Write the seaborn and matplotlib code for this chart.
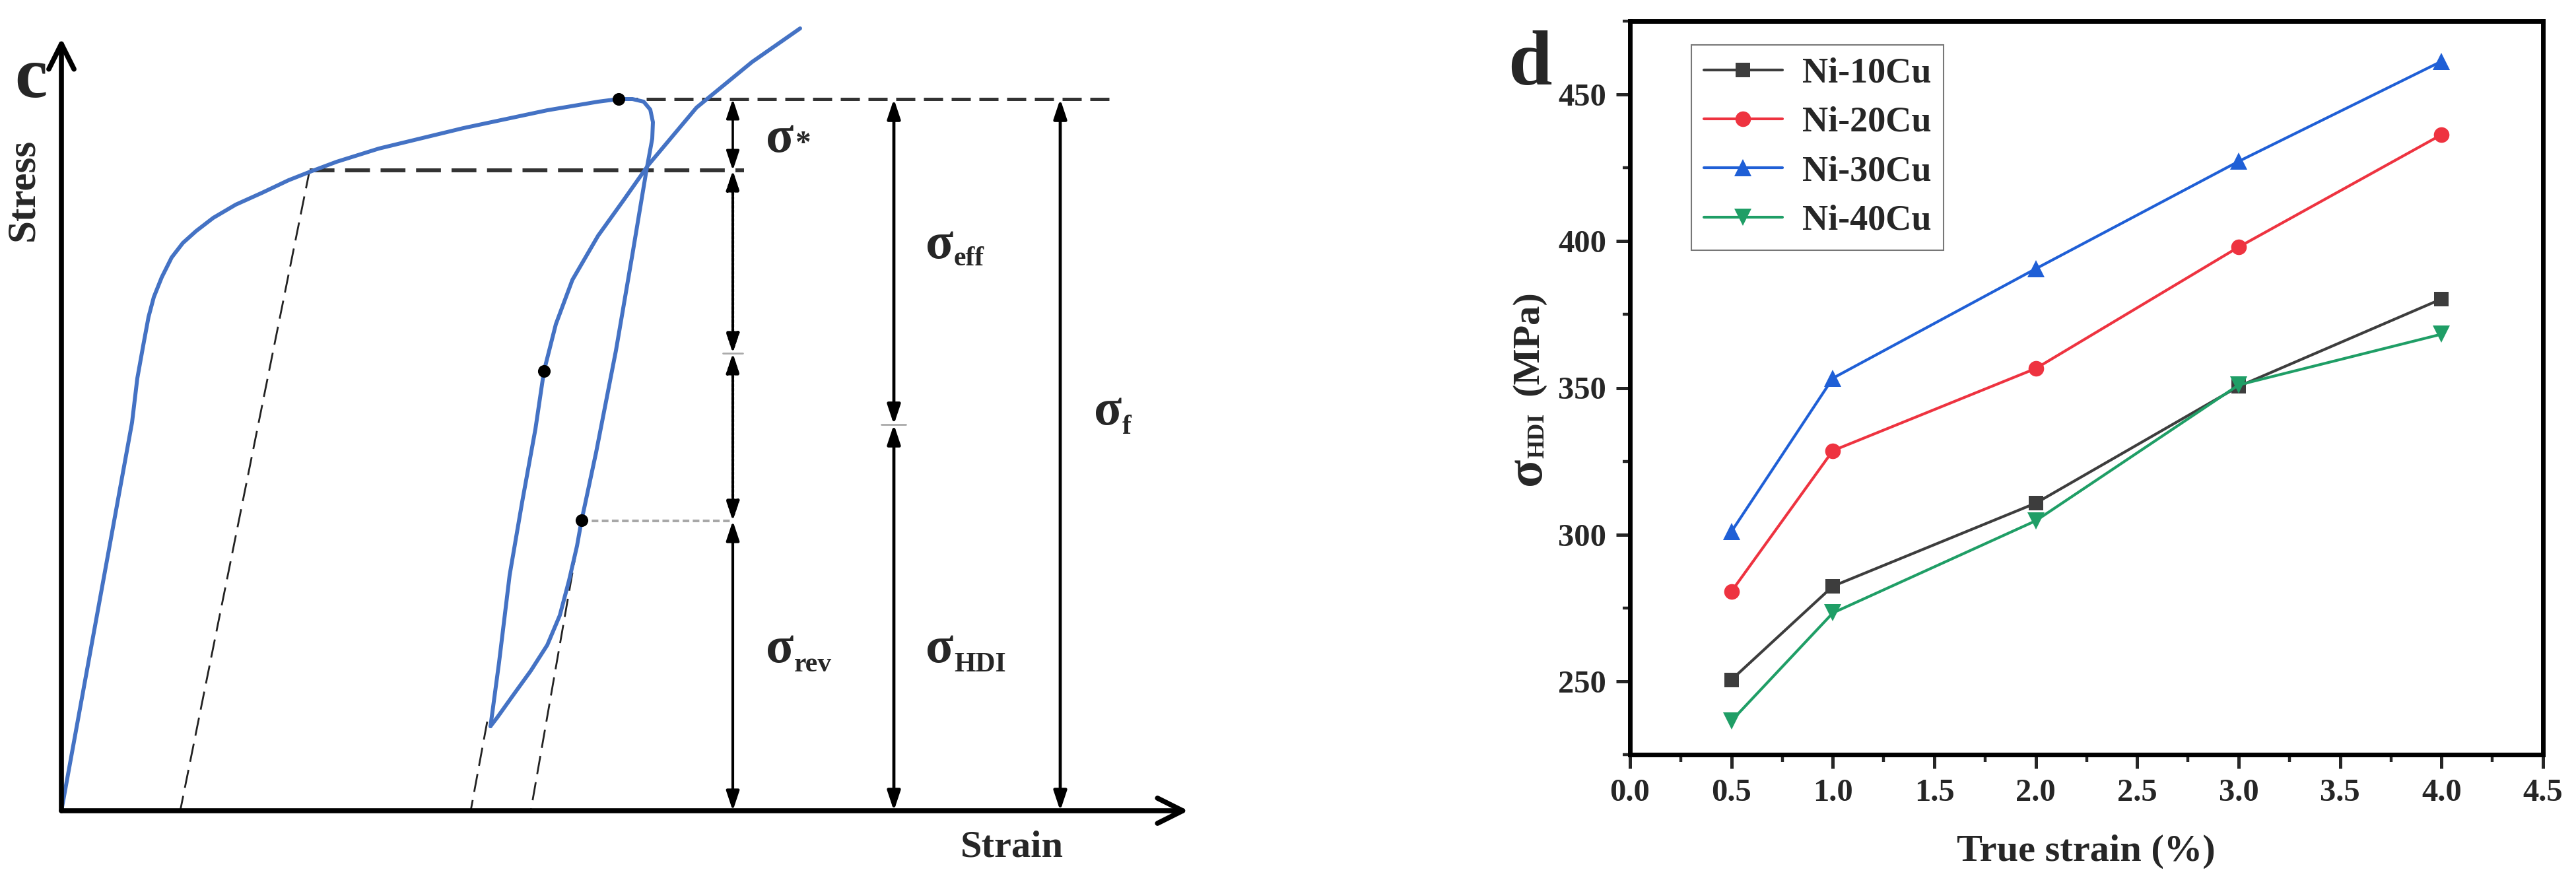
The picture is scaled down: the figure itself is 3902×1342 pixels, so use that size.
import numpy as np
import pandas as pd
import matplotlib
matplotlib.use('Agg')
import matplotlib.pyplot as plt
import seaborn as sns
from matplotlib.ticker import MultipleLocator

# ---- panel c: schematic stress-strain loop (arbitrary units) ----
load_strain = [0.00, 1.07, 1.15, 1.24, 1.32, 1.40, 1.52, 1.67, 1.84, 2.04, 2.30, 2.64, 3.04,
               3.44, 3.77, 4.17, 4.81, 6.09, 7.36, 8.13, 8.44]
load_stress = [0.00, 5.88, 6.55, 7.05, 7.48, 7.78, 8.08, 8.38, 8.60, 8.78, 8.98, 9.18, 9.36,
               9.55, 9.68, 9.83, 10.03, 10.34, 10.61, 10.74, 10.78]
unload_strain = [8.44, 8.65, 8.82, 8.92, 8.96, 8.95, 8.86, 8.65, 8.40, 8.10, 7.88, 7.81, 7.69,
                 7.55, 7.36, 7.11, 6.85, 6.60, 6.50]
unload_stress = [10.78, 10.78, 10.74, 10.62, 10.43, 10.18, 9.69, 8.43, 6.97, 5.43, 4.40, 4.01, 3.49,
                 2.96, 2.51, 2.12, 1.76, 1.41, 1.28]
reload_strain = [6.50, 6.63, 6.79, 6.98, 7.18, 7.31, 7.49, 7.74, 8.13, 8.51, 8.89, 9.62, 10.46, 11.19]
reload_stress = [1.28, 2.25, 3.57, 4.68, 5.78, 6.66, 7.37, 8.04, 8.71, 9.24, 9.78, 10.65, 11.34, 11.85]

dot_strain = [8.44, 7.31, 7.88]
dot_stress = [10.78, 6.66, 4.40]

# elastic unloading guides (strain at top, stress at top, strain at zero)
guide_top_strain = [3.76, 6.45, 7.88]
guide_top_stress = [9.70, 1.35, 4.40]
guide_zero_strain = [1.80, 6.20, 7.11]

sigma_f = 10.78      # peak flow stress
sigma_y = 9.70       # level of first dashed line
sigma_rev = 4.39     # reverse point
sigma_mid1 = 6.93
sigma_hdi = 5.85
col_strain = [10.17, 12.61, 15.13]
x_end, y_end = 17.07, 11.70

# ---- panel d: HDI stress vs true strain ----
true_strain = [0.5, 1.0, 2.0, 3.0, 4.0]
ni10 = [250.5, 282.4, 310.7, 350.5, 380.3]
ni20 = [280.6, 328.6, 356.6, 398.0, 436.3]
ni30 = [301.0, 353.3, 390.6, 427.2, 461.3]
ni40 = [236.5, 273.3, 304.7, 351.0, 368.3]
names = ['Ni-10Cu', 'Ni-20Cu', 'Ni-30Cu', 'Ni-40Cu']

sns.set_style('white')
plt.rcParams['font.family'] = ['Liberation Serif', 'DejaVu Serif']
plt.rcParams['font.weight'] = 'bold'

W, H = 3902, 1342
fig = plt.figure(figsize=(W / 100, H / 100), dpi=100)


def fx(px):
    return px / W


def fy(py):
    return 1 - py / H


# ================= left panel =================
ax1 = fig.add_axes([0, 0, 1900 / W, 1])
ax1.set_xlim(-0.93, 18.07)
ax1.set_ylim(-1.14, 12.28)
ax1.axis('off')

blue = '#4472c4'
for xs, ys in [(load_strain, load_stress), (unload_strain, unload_stress), (reload_strain, reload_stress)]:
    sns.lineplot(x=xs, y=ys, sort=False, estimator=None, color=blue, lw=4.3, ax=ax1,
                 solid_joinstyle='round', solid_capstyle='round', zorder=3)

for xt, yt, x0 in zip(guide_top_strain, guide_top_stress, guide_zero_strain):
    ax1.plot([xt, x0], [yt, 0], color='#222222', lw=2.0, dashes=(10, 4.5), zorder=2)

ax1.plot([dot_strain[0], 15.92], [sigma_f, sigma_f], color='#333333', lw=3.6, dashes=(5.8, 2.6))
ax1.plot([guide_top_strain[0], 10.34], [sigma_y, sigma_y], color='#333333', lw=4.3, dashes=(6.3, 2.7))
ax1.plot([dot_strain[2], col_strain[0]], [sigma_rev, sigma_rev], color='#a8a8a8', lw=2.9, dashes=(2.5, 1.3))
ax1.plot([col_strain[0] - 0.15, col_strain[0] + 0.15], [sigma_mid1, sigma_mid1], color='#aaaaaa', lw=2)
ax1.plot([col_strain[1] - 0.19, col_strain[1] + 0.18], [sigma_hdi, sigma_hdi], color='#aaaaaa', lw=2)

sns.scatterplot(x=dot_strain, y=dot_stress, color='black', s=190, edgecolor='black', linewidth=0,
                ax=ax1, zorder=5)


def varrow(x, y0, y1, lw=3.4, ls='-'):
    ax1.annotate('', xy=(x, y1), xytext=(x, y0),
                 arrowprops=dict(arrowstyle='<|-|>,head_length=0.9,head_width=0.3', lw=lw, ls=ls,
                                 color='black', mutation_scale=20, shrinkA=0, shrinkB=0))


varrow(col_strain[0], sigma_f, sigma_y, lw=2.6)
varrow(col_strain[0], sigma_y, sigma_mid1, lw=3.0, ls=(0, (1, 0.6)))
varrow(col_strain[0], sigma_mid1, sigma_rev, lw=3.0, ls=(0, (1, 0.6)))
varrow(col_strain[0], sigma_rev, 0, lw=3.0)
varrow(col_strain[1], sigma_f, sigma_hdi)
varrow(col_strain[1], sigma_hdi, 0)
varrow(col_strain[2], sigma_f, 0)

axis_arrow = dict(arrowstyle='->,head_length=0.5,head_width=0.25', lw=5.5, color='black',
                  mutation_scale=55, shrinkA=0, shrinkB=0)
ax1.annotate('', xy=(0, y_end), xytext=(0, 0), arrowprops=axis_arrow)
ax1.annotate('', xy=(x_end, 0), xytext=(0, 0), arrowprops=axis_arrow)

fig.text(fx(22), fy(147), 'c', fontsize=80, ha='left', va='baseline')
fig.text(fx(35), fy(287), 'Stress', rotation=90, fontsize=44, ha='center', va='center')
fig.text(fx(1533), fy(1283), 'Strain', fontsize=42, ha='center', va='center')


def sigma_label(x, y, sub, sub_dy=14, sup=False):
    fig.text(fx(x), fy(y), 'σ', fontsize=56, ha='left', va='baseline')
    if sup:
        fig.text(fx(x + 44), fy(y), sub, fontsize=34, ha='left', va='baseline')
    else:
        fig.text(fx(x + 43), fy(y + sub_dy), sub, fontsize=30, ha='left', va='baseline')


sigma_label(1160, 230, '*', sup=True)
sigma_label(1402, 391, 'eff', sub_dy=11)
sigma_label(1657, 643, 'f')
sigma_label(1160, 1003, 'rev')
sigma_label(1402, 1003, 'HDI')

# ================= right panel =================
ax2 = fig.add_axes([fx(2469), fy(1143), (3852 - 2469) / W, (1143 - 32) / H])
colors = ['#3d3d3d', '#ee3340', '#1f5fd6', '#1f9e66']
markers = ['s', 'o', '^', 'v']
sizes = [16, 17, 19, 19]
for name, vals, c, m, ms in zip(names, [ni10, ni20, ni30, ni40], colors, markers, sizes):
    sns.lineplot(x=true_strain, y=vals, color=c, marker=m, markersize=ms, markeredgewidth=0,
                 lw=3, label=name, ax=ax2)

ax2.set_xlim(0, 4.5)
ax2.set_ylim(225, 475)
ax2.xaxis.set_major_locator(MultipleLocator(0.5))
ax2.xaxis.set_minor_locator(MultipleLocator(0.25))
ax2.yaxis.set_major_locator(MultipleLocator(50))
ax2.yaxis.set_minor_locator(MultipleLocator(25))
ax2.tick_params(which='major', direction='out', length=15, width=3.6, labelsize=35, pad=11,
                bottom=True, left=True, top=False, right=False)
ax2.tick_params(which='minor', direction='out', length=8, width=3.2,
                bottom=True, left=True, top=False, right=False)
for s in ax2.spines.values():
    s.set_linewidth(5)
    s.set_color('black')
ax2.set_xlabel('')
ax2.set_ylabel('')

leg = ax2.legend(loc='upper left', bbox_to_anchor=(0.067, 0.968), borderaxespad=0, frameon=True,
                 fancybox=False, edgecolor='#777777', framealpha=1,
                 prop=dict(family='Liberation Serif', weight='bold', size=39),
                 handlelength=2.2, handletextpad=0.55, labelspacing=0.45, borderpad=0.35)
leg.get_frame().set_linewidth(1.5)

fig.text(fx(2284), fy(128), 'd', fontsize=86, ha='left', va='baseline')
fig.text(fx(3160), fy(1290), 'True strain (%)', fontsize=42, ha='center', va='center')
fig.text(fx(2314), fy(714), 'σ', rotation=90, fontsize=56, ha='center', va='center')
fig.text(fx(2330), fy(660), 'HDI', rotation=90, fontsize=26, ha='center', va='center')
fig.text(fx(2315), fy(520), '(MPa)', rotation=90, fontsize=42, ha='center', va='center')

fig.savefig('out.png', dpi=100, facecolor='white')
